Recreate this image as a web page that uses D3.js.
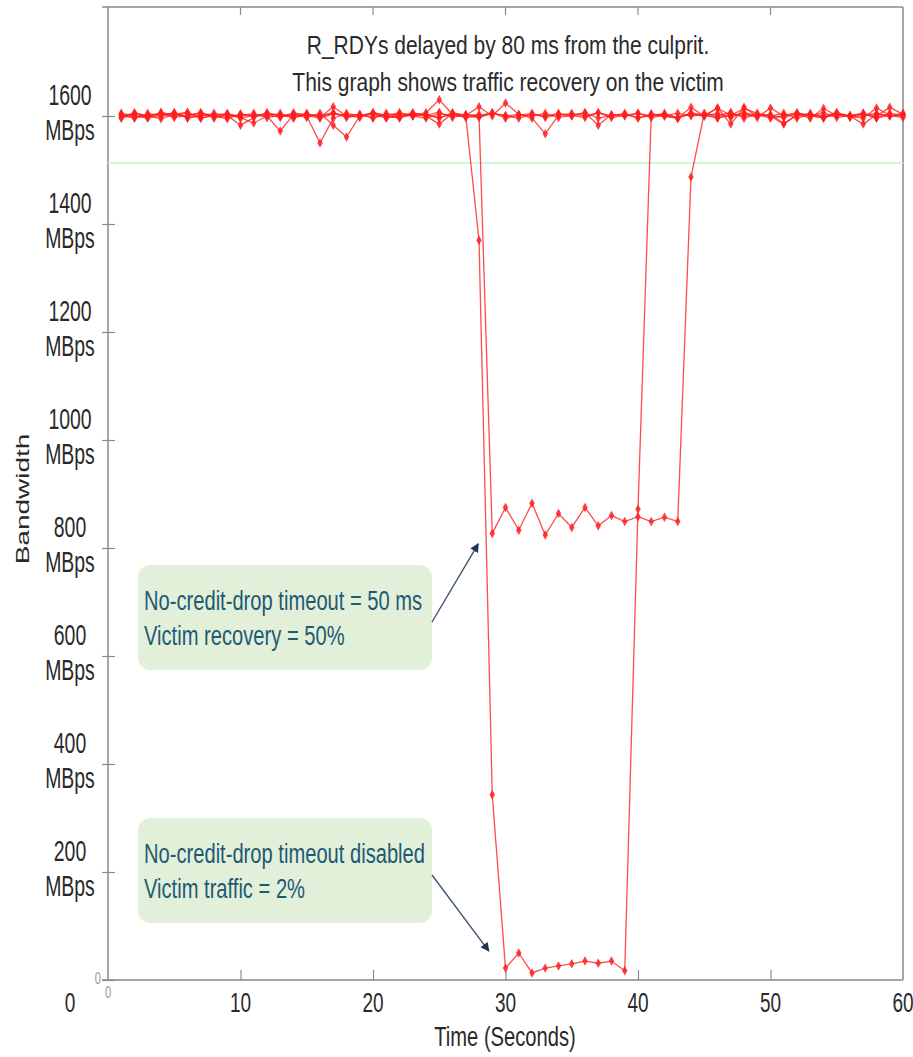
<!DOCTYPE html>
<html>
<head>
<meta charset="utf-8">
<script src="https://cdn.jsdelivr.net/npm/d3@7/dist/d3.min.js"></script>
<style>
  html, body { margin: 0; padding: 0; background: #fff; }
  svg { display: block; font-family: "Liberation Sans", Arial, Helvetica, sans-serif; }
</style>
</head>
<body>
<svg id="chart" width="913" height="1057"></svg>
<script>
// ---- data -------------------------------------------------------------
const seconds = d3.range(1, 61);           // one sample per second, t = 1..60

// victim flow, no-credit-drop timeout disabled
const victimNoTimeout = [
  1601,1596,1605,1600,1606,1597,1603,1600,1595,1604,
  1600,1603,1597,1606,1601,1596,1604,1600,1603,1597,
  1601,1606,1600,1596,1604,1601,1600,1370,343,22,
  50,13,22,26,30,35,31,35,17,872,
  1604,1600,1596,1606,1601,1597,1604,1600,1603,1596,
  1601,1606,1600,1597,1603,1600,1605,1596,1601,1600
];
// victim flow, no-credit-drop timeout = 50 ms
const victimTimeout50 = [
  1597,1606,1600,1595,1603,1607,1596,1601,1605,1597,
  1587,1600,1605,1596,1603,1600,1606,1597,1601,1605,
  1596,1600,1606,1601,1597,1603,1600,1603,827,875,
  833,883,824,864,838,875,841,860,849,858,
  849,857,849,1487,1605,1600,1607,1596,1603,1600,
  1597,1605,1601,1596,1606,1600,1603,1597,1605,1601
];
// other flows
const flow1 = [
  1605,1600,1596,1607,1601,1600,1606,1596,1603,1600,
  1605,1597,1601,1603,1600,1550,1596,1605,1600,1606,
  1600,1596,1605,1601,1607,1597,1603,1600,1606,1596,
  1601,1605,1597,1603,1600,1606,1596,1601,1605,1597,
  1603,1600,1596,1616,1600,1605,1597,1606,1601,1600,
  1605,1596,1603,1600,1606,1597,1601,1605,1600,1603
];
const flow2 = [
  1596,1603,1600,1605,1597,1601,1606,1600,1603,1596,
  1601,1600,1572,1603,1597,1605,1583,1561,1600,1603,
  1597,1605,1600,1603,1596,1606,1601,1597,1605,1600,
  1603,1596,1567,1601,1605,1600,1606,1597,1601,1605,
  1600,1603,1596,1605,1601,1615,1585,1616,1600,1603,
  1586,1601,1605,1597,1603,1600,1596,1615,1601,1597
];
const flow3 = [
  1600,1605,1597,1601,1606,1596,1600,1605,1601,1583,
  1597,1606,1600,1601,1605,1597,1617,1600,1603,1596,
  1605,1600,1601,1606,1630,1603,1597,1600,1605,1601,
  1596,1603,1600,1605,1601,1597,1606,1600,1603,1596,
  1601,1605,1597,1603,1600,1615,1601,1605,1597,1615,
  1600,1603,1596,1614,1601,1600,1585,1603,1600,1605
];
const flow4 = [
  1603,1597,1601,1605,1600,1606,1596,1601,1597,1603,
  1600,1605,1601,1597,1603,1600,1605,1601,1597,1606,
  1601,1597,1603,1600,1585,1605,1601,1617,1600,1624,
  1603,1600,1605,1597,1601,1606,1583,1603,1600,1605,
  1597,1601,1605,1600,1603,1596,1601,1614,1605,1600,
  1585,1603,1600,1606,1597,1601,1605,1600,1616,1603
];
const allSeries = [flow1, flow2, flow3, flow4, victimTimeout50, victimNoTimeout];

const yTicks = [200, 400, 600, 800, 1000, 1200, 1400, 1600];
const xTicks = [10, 20, 30, 40, 50, 60];
const thresholdLevel = 1513;   // light green reference line

const titleLines = [
  "R_RDYs delayed by 80 ms from the culprit.",
  "This graph shows traffic recovery on the victim"
];
const notes = [
  { lines: ["No-credit-drop timeout = 50 ms", "Victim recovery = 50%"], top: 565, tip: [29.0, 830] },
  { lines: ["No-credit-drop timeout disabled", "Victim traffic = 2%"], top: 818, tip: [29.8, 35] }
];

// ---- layout -----------------------------------------------------------
const W = 913, H = 1057;
const m = { left: 108, right: 10, top: 8, bottom: 77 };
const svg = d3.select("#chart");

const x = d3.scaleLinear().domain([0, 60]).range([m.left, W - m.right]);
const y = d3.scaleLinear().domain([0, 1800]).range([H - m.bottom, m.top]);

// text helper: glyphs are drawn with a horizontal squeeze
function squeezed(parent, tx, ty, str, size, sx, anchor, fill) {
  return parent.append("text")
    .attr("transform", `translate(${tx},${ty}) scale(${sx},1)`)
    .attr("text-anchor", anchor)
    .attr("font-size", size)
    .attr("fill", fill)
    .text(str);
}

// ---- frame --------------------------------------------------------------
const axisColor = "#8a8a8a";
svg.append("line").attr("x1", m.left - 6).attr("x2", W - m.right)
  .attr("y1", m.top - 1).attr("y2", m.top - 1)
  .attr("stroke", axisColor).attr("stroke-width", 1.5);
svg.append("line").attr("x1", W - m.right).attr("x2", W - m.right)
  .attr("y1", m.top - 1).attr("y2", y(0))
  .attr("stroke", axisColor).attr("stroke-width", 1.5);

// top ticks
svg.append("g").selectAll("line").data(xTicks.filter(d => d < 60)).join("line")
  .attr("x1", d => x(d)).attr("x2", d => x(d))
  .attr("y1", m.top - 1).attr("y2", m.top + 7)
  .attr("stroke", axisColor).attr("stroke-width", 1.2);

// left axis
const yAxis = d3.axisLeft(y).tickValues([0, ...yTicks]).tickSize(6).tickFormat("");
const gy = svg.append("g").attr("transform", `translate(${m.left},0)`).call(yAxis);
gy.select(".domain").attr("stroke", axisColor).attr("stroke-width", 1.5)
  .attr("d", `M0,${m.top - 1}V${y(0)}`);
gy.selectAll(".tick line").attr("stroke", axisColor).attr("stroke-width", 1.2)
  .attr("x1", -6).attr("x2", 7);

// bottom axis
const xAxis = d3.axisBottom(x).tickValues(xTicks.filter(d => d < 60)).tickSize(-10).tickFormat("");
const gx = svg.append("g").attr("transform", `translate(0,${y(0)})`).call(xAxis);
gx.select(".domain").attr("stroke", axisColor).attr("stroke-width", 1.5)
  .attr("d", `M${m.left - 6},0H${W - m.right}`);
gx.selectAll(".tick line").attr("stroke", axisColor).attr("stroke-width", 1.2);

// y tick labels (value over unit)
const labelColor = "#2a2a2a";
yTicks.forEach(v => {
  squeezed(svg, 70, y(v) - 11, String(v), 29, 0.67, "middle", labelColor);
  squeezed(svg, 70, y(v) + 24, "MBps", 29, 0.67, "middle", labelColor);
});
squeezed(svg, 101, y(0) + 4, "0", 16, 0.7, "end", "#9a9a9a");
squeezed(svg, 70, 1012, "0", 28, 0.68, "middle", labelColor);

// x tick labels
squeezed(svg, x(0), 998, "0", 16, 0.7, "middle", "#9a9a9a");
xTicks.forEach(v => squeezed(svg, x(v), 1012, String(v), 28, 0.68, "middle", labelColor));

// axis titles
squeezed(svg, 505, 1046, "Time (Seconds)", 28, 0.72, "middle", labelColor);
svg.append("text")
  .attr("transform", "translate(29,499) rotate(-90) scale(1,0.68)")
  .attr("text-anchor", "middle").attr("font-size", 28).attr("fill", labelColor)
  .text("Bandwidth");

// chart title
titleLines.forEach((t, i) => squeezed(svg, 508, 54 + i * 37, t, 25, 0.84, "middle", labelColor));

// ---- reference line ---------------------------------------------------
svg.append("line")
  .attr("x1", x(0)).attr("x2", x(60))
  .attr("y1", y(thresholdLevel)).attr("y2", y(thresholdLevel))
  .attr("stroke", "#d6f5d6").attr("stroke-width", 2);

// ---- series -------------------------------------------------------------
const red = "#ff1f1f";
const line = d3.line().x((d, i) => x(seconds[i])).y(d => y(d));
const diamond = d3.symbol().type(d3.symbolDiamond).size(26);

const gs = svg.append("g");
allSeries.forEach(vals => {
  gs.append("path").datum(vals)
    .attr("d", line)
    .attr("fill", "none")
    .attr("stroke", red)
    .attr("stroke-width", 1.3)
    .attr("stroke-opacity", 0.8);
  gs.append("g").selectAll("path").data(vals).join("path")
    .attr("transform", (d, i) => `translate(${x(seconds[i])},${y(d)})`)
    .attr("d", diamond)
    .attr("fill", red)
    .attr("fill-opacity", 0.85);
});

// ---- annotations -----------------------------------------------------
const noteColor = "#1e5a74";
svg.append("defs").append("marker")
  .attr("id", "arrowHead").attr("viewBox", "0 0 10 10")
  .attr("refX", 9).attr("refY", 5)
  .attr("markerWidth", 9).attr("markerHeight", 9)
  .attr("markerUnits", "userSpaceOnUse")
  .attr("orient", "auto")
  .append("path").attr("d", "M0,0L10,5L0,10z").attr("fill", "#1f3550");

notes.forEach(n => {
  const bx = 138, bw = 294, bh = 105;
  svg.append("rect")
    .attr("x", bx).attr("y", n.top).attr("width", bw).attr("height", bh)
    .attr("rx", 12).attr("ry", 12)
    .attr("fill", "#e2f0da");
  n.lines.forEach((t, i) =>
    squeezed(svg, bx + 6, n.top + 45 + i * 35, t, 28, 0.72, "start", noteColor));
  const sx = bx + bw, sy = n.top + 57;
  svg.append("line")
    .attr("x1", sx).attr("y1", sy)
    .attr("x2", x(n.tip[0]) - 14).attr("y2", y(n.tip[1]) + (n.tip[1] > 400 ? 12 : -10))
    .attr("stroke", "#3d5573").attr("stroke-width", 1.4)
    .attr("marker-end", "url(#arrowHead)");
});
</script>
</body>
</html>
